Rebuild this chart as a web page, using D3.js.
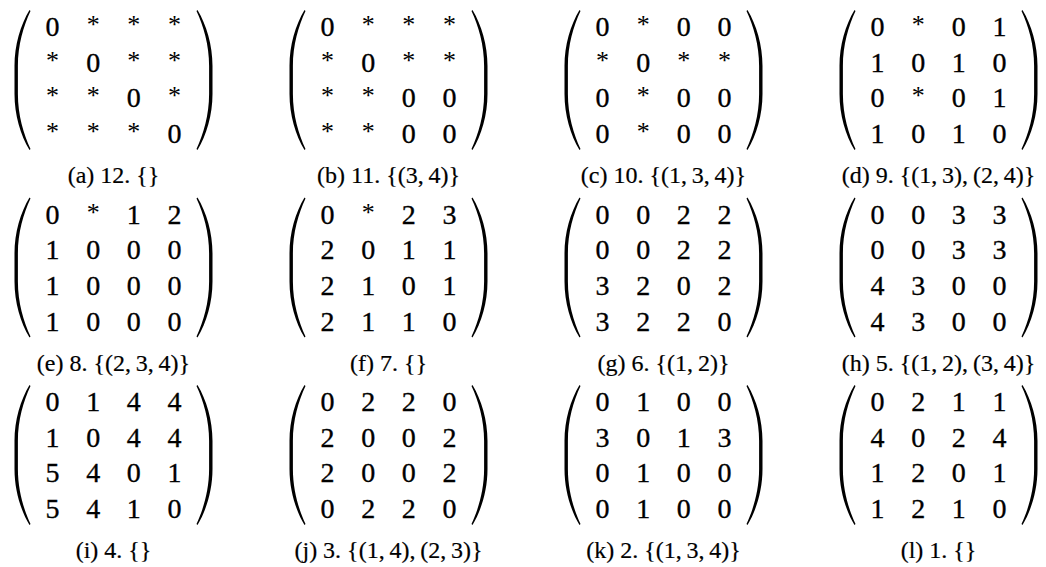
<!DOCTYPE html>
<html>
<head>
<meta charset="utf-8">
<script src="https://cdn.jsdelivr.net/npm/d3@7"></script>
<style>
  html, body { margin: 0; padding: 0; background: #fff; }
  svg { display: block; }
</style>
</head>
<body>
<div id="chart"></div>
<script>
// ---- data ----
const panelLetters = ["a", "b", "c", "d", "e", "f", "g", "h", "i", "j", "k", "l"];
const panelNumbers = [12, 11, 10, 9, 8, 7, 6, 5, 4, 3, 2, 1];
const panelSets = ["{}", "{(3, 4)}", "{(1, 3, 4)}", "{(1, 3), (2, 4)}",
                   "{(2, 3, 4)}", "{}", "{(1, 2)}", "{(1, 2), (3, 4)}",
                   "{}", "{(1, 4), (2, 3)}", "{(1, 3, 4)}", "{}"];

const m12 = [["0","*","*","*"],["*","0","*","*"],["*","*","0","*"],["*","*","*","0"]];
const m11 = [["0","*","*","*"],["*","0","*","*"],["*","*","0","0"],["*","*","0","0"]];
const m10 = [["0","*","0","0"],["*","0","*","*"],["0","*","0","0"],["0","*","0","0"]];
const m9  = [["0","*","0","1"],["1","0","1","0"],["0","*","0","1"],["1","0","1","0"]];
const m8  = [["0","*","1","2"],["1","0","0","0"],["1","0","0","0"],["1","0","0","0"]];
const m7  = [["0","*","2","3"],["2","0","1","1"],["2","1","0","1"],["2","1","1","0"]];
const m6  = [["0","0","2","2"],["0","0","2","2"],["3","2","0","2"],["3","2","2","0"]];
const m5  = [["0","0","3","3"],["0","0","3","3"],["4","3","0","0"],["4","3","0","0"]];
const m4  = [["0","1","4","4"],["1","0","4","4"],["5","4","0","1"],["5","4","1","0"]];
const m3  = [["0","2","2","0"],["2","0","0","2"],["2","0","0","2"],["0","2","2","0"]];
const m2  = [["0","1","0","0"],["3","0","1","3"],["0","1","0","0"],["0","1","0","0"]];
const m1  = [["0","2","1","1"],["4","0","2","4"],["1","2","0","1"],["1","2","1","0"]];
const matrices = [m12, m11, m10, m9, m8, m7, m6, m5, m4, m3, m2, m1];

// ---- layout ----
const W = 1046, H = 567;
const FONT = "'Liberation Serif', 'Times New Roman', serif";
const svg = d3.select("#chart").append("svg").attr("width", W).attr("height", H);

const panelX = d3.scaleLinear().domain([0, 3]).range([113.5, 938.5]);
const panelY = d3.scaleLinear().domain([0, 2]).range([80, 455]);
const colX = d3.scalePoint().domain([0, 1, 2, 3]).range([-61, 61]);
const rowY = d3.scalePoint().domain([0, 1, 2, 3]).range([-53.5, 53.5]);

const parenHalfH = 70, parenOuter = 99;

function leftParen(xo, y0, y1) {
  const p = d3.path();
  p.moveTo(xo + 15, y0);
  p.bezierCurveTo(xo + 6, y0 + 15, xo, y0 + 35, xo, y0 + 56);
  p.lineTo(xo, y1 - 56);
  p.bezierCurveTo(xo, y1 - 35, xo + 6, y1 - 15, xo + 15, y1);
  p.lineTo(xo + 16, y1 - 1);
  p.bezierCurveTo(xo + 9, y1 - 16, xo + 3.4, y1 - 35, xo + 3.4, y1 - 56);
  p.lineTo(xo + 3.4, y0 + 56);
  p.bezierCurveTo(xo + 3.4, y0 + 35, xo + 9, y0 + 16, xo + 16, y0 + 1);
  p.closePath();
  return p.toString();
}
function rightParen(xo, y0, y1) {
  const p = d3.path();
  p.moveTo(xo - 15, y0);
  p.bezierCurveTo(xo - 6, y0 + 15, xo, y0 + 35, xo, y0 + 56);
  p.lineTo(xo, y1 - 56);
  p.bezierCurveTo(xo, y1 - 35, xo - 6, y1 - 15, xo - 15, y1);
  p.lineTo(xo - 16, y1 - 1);
  p.bezierCurveTo(xo - 9, y1 - 16, xo - 3.4, y1 - 35, xo - 3.4, y1 - 56);
  p.lineTo(xo - 3.4, y0 + 56);
  p.bezierCurveTo(xo - 3.4, y0 + 35, xo - 9, y0 + 16, xo - 16, y0 + 1);
  p.closePath();
  return p.toString();
}

const panels = svg.selectAll("g.panel")
  .data(matrices.map((m, i) => ({ m, i })))
  .join("g")
  .attr("class", "panel")
  .attr("transform", d => `translate(${panelX(d.i % 4)},${panelY(Math.floor(d.i / 4))})`);

panels.append("path")
  .attr("d", leftParen(-parenOuter, -parenHalfH, parenHalfH))
  .attr("fill", "#000");
panels.append("path")
  .attr("d", rightParen(parenOuter, -parenHalfH, parenHalfH))
  .attr("fill", "#000");

panels.each(function (d) {
  const g = d3.select(this);
  const cells = [];
  d.m.forEach((row, r) => row.forEach((v, c) => cells.push({ r, c, v })));
  g.selectAll("text.cell")
    .data(cells)
    .join("text")
    .attr("class", "cell")
    .attr("x", e => colX(e.c))
    .attr("y", e => rowY(e.r) + (e.v === "*" ? 6.5 : 9.5))
    .attr("text-anchor", "middle")
    .attr("font-family", FONT)
    .attr("font-size", e => e.v === "*" ? 26 : 28)
    .attr("fill", "#000")
    .attr("stroke", "#000")
    .attr("stroke-width", e => e.v === "*" ? 0 : 0.35)
    .text(e => e.v);
});

function mathSet(s) {
  return s.replace(/, /g, ",\u2009");
}

panels.append("text")
  .attr("x", 0)
  .attr("y", 103)
  .attr("text-anchor", "middle")
  .attr("font-family", FONT)
  .attr("font-size", 24)
  .attr("fill", "#000")
  .attr("stroke", "#000")
  .attr("stroke-width", 0.2)
  .text(d => `(${panelLetters[d.i]}) ${panelNumbers[d.i]}. ${mathSet(panelSets[d.i])}`);
</script>
</body>
</html>
